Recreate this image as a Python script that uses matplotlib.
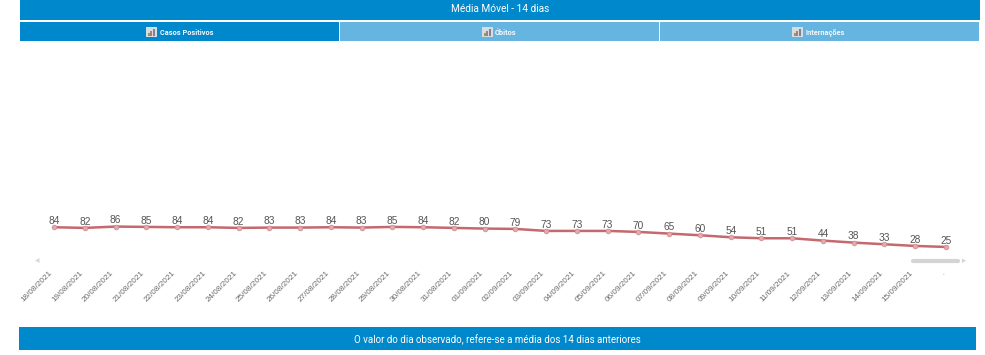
import matplotlib
matplotlib.use("Agg")
import matplotlib.pyplot as plt
from matplotlib.patches import Rectangle, Polygon
from matplotlib.transforms import ScaledTranslation

W, H = 985, 355
dates = ["18/08/2021","19/08/2021","20/08/2021","21/08/2021","22/08/2021","23/08/2021",
         "24/08/2021","25/08/2021","26/08/2021","27/08/2021","28/08/2021","29/08/2021",
         "30/08/2021","31/08/2021","01/09/2021","02/09/2021","03/09/2021","04/09/2021",
         "05/09/2021","06/09/2021","07/09/2021","08/09/2021","09/09/2021","10/09/2021",
         "11/09/2021","12/09/2021","13/09/2021","14/09/2021","15/09/2021","."]
values = [84,82,86,85,84,84,82,83,83,84,83,85,84,82,80,79,73,73,73,70,65,60,54,51,51,44,38,33,28,25]
title = "Média Móvel - 14 dias"
tabs = ["Casos Positivos", "Óbitos", "Internações"]
footer = "O valor do dia observado, refere-se a média dos 14 dias anteriores"

BLUE, LIGHT = "#0088cc", "#66b5e0"
fig = plt.figure(figsize=(W/100, H/100), dpi=100, facecolor="white")

# overlay in pixel coordinates for the page chrome
ui = fig.add_axes([0, 0, 1, 1], zorder=0)
ui.set_xlim(0, W); ui.set_ylim(H, 0); ui.axis("off")
ui.add_patch(Rectangle((20, 0), 960, 20, color=BLUE, lw=0))
ui.text(500, 8.5, title, color="white", fontsize=7.25, family="Roboto", ha="center", va="center_baseline")
tab_x = [(20, 339), (340, 659), (660, 979)]
icon_x = [146, 482, 792]
text_x = [160, 495, 806]
for i, (lab, (a, b)) in enumerate(zip(tabs, tab_x)):
    ui.add_patch(Rectangle((a, 22), b-a, 19, color=BLUE if i == 0 else LIGHT, lw=0))
    ix = icon_x[i]
    ui.add_patch(Rectangle((ix, 26.5), 11, 10, color="#d5dde2", lw=0))
    for dx, h, c in [(1.5, 3, "#8f9a75"), (4, 5, "#b07a6c"), (6.5, 7, "#7a8494")]:
        ui.add_patch(Rectangle((ix+dx, 35.5-h), 2, h, color=c, lw=0))
    ui.text(text_x[i], 32, lab, color="#f2f8fc", fontsize=5.35, family="Roboto",
            fontweight="bold", ha="left", va="center_baseline")
ui.add_patch(Rectangle((19, 327), 957, 23, color=BLUE, lw=0))
ui.text(497.5, 338.5, footer, color="white", fontsize=7.0, family="Roboto", ha="center", va="center_baseline")
# scroll bar remnants
ui.plot([913, 958], [260.7, 260.7], color="#d4d4d4", lw=3, solid_capstyle="round")
ui.add_patch(Polygon([[962, 258.5], [966, 260.7], [962, 263]], color="#d4d4d4", lw=0))
ui.add_patch(Polygon([[39.5, 258], [35, 260.5], [39.5, 263]], color="#d8d8d8", lw=0))

# chart
x0, x1, y_base, y_top = 54, 946, 255.3, 54.9
ax = fig.add_axes([x0/W, 1-y_base/H, (x1-x0)/W, (y_base-y_top)/H], zorder=1)
ax.patch.set_alpha(0)
xs = list(range(len(values)))
ax.set_xlim(0, len(values)-1)
ax.set_ylim(0, 600)
ax.plot(xs, values, color="#c4696e", lw=1.8, marker="o", ms=3.4, mfc="#e3a9ac",
        mec="#d08a8e", mew=0.5, clip_on=False)
for x, v in zip(xs, values):
    ax.annotate(str(v), (x, v), xytext=(0, 4.4), textcoords="offset points", ha="center",
                va="center", fontsize=7.3, color="#555555", family="Liberation Sans",
                annotation_clip=False)
for s in ax.spines.values():
    s.set_visible(False)
ax.set_yticks([])
ax.set_xticks(xs)
ax.set_xticklabels(dates)
ax.tick_params(axis="x", length=0, pad=10.5)
shift = ScaledTranslation(-5/100, 0, fig.dpi_scale_trans)
for t in ax.get_xticklabels():
    t.set(rotation=45, ha="right", va="top", rotation_mode="anchor", fontsize=5.9,
          color="#6a6a6a", family="Liberation Sans")
    t.set_transform(t.get_transform() + shift)
fig.savefig("out.png", dpi=100)
